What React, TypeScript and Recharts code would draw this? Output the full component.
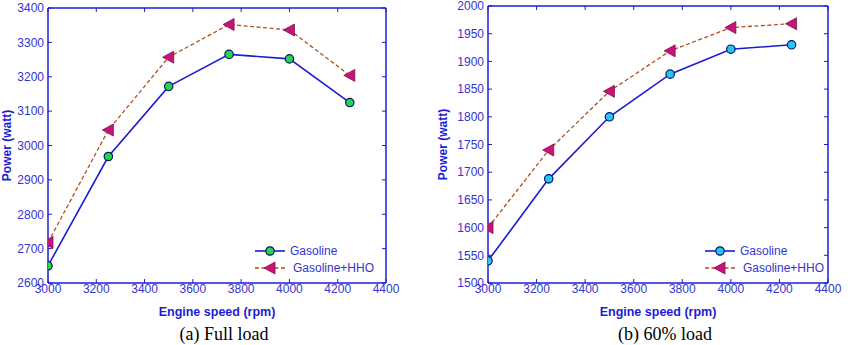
import React from "react";
import { LineChart, Line, XAxis, YAxis } from "recharts";

// Engine speed (rpm) at each test point
const rpm = [3000, 3250, 3500, 3750, 4000, 4250];

// Power output (watt) at full load
const fullGasoline = [2650, 2968, 3172, 3265, 3252, 3125];
const fullHHO = [2718, 3045, 3257, 3352, 3336, 3204];

// Power output (watt) at 60% load
const partGasoline = [1540, 1688, 1800, 1877, 1922, 1930];
const partHHO = [1600, 1740, 1846, 1919, 1961, 1968];

const xTicks = [3000, 3200, 3400, 3600, 3800, 4000, 4200, 4400];
const fullTicks = [2600, 2700, 2800, 2900, 3000, 3100, 3200, 3300, 3400];
const partTicks = [1500, 1550, 1600, 1650, 1700, 1750, 1800, 1850, 1900, 1950, 2000];

const AXIS = "#1c1cd6";
const LABEL = "#3434d0";
const FONT = "'Liberation Sans', Arial, sans-serif";

const buildRows = (a: number[], b: number[]) =>
  rpm.map((r, i) => ({ rpm: r, gasoline: a[i], hho: b[i] }));

// left-pointing triangle marker
const TriangleDot = (props: any) => {
  const { cx, cy } = props;
  if (cx == null || cy == null) return null;
  return (
    <path
      d={`M${cx - 6},${cy} L${cx + 5},${cy - 6} L${cx + 5},${cy + 6} Z`}
      fill="#c8147a"
      stroke="#7a1048"
      strokeWidth={0.8}
    />
  );
};

const CircleDot = (fill: string) => (props: any) => {
  const { cx, cy } = props;
  if (cx == null || cy == null) return null;
  return <circle cx={cx} cy={cy} r={4.2} fill={fill} stroke="#10106a" strokeWidth={1.2} />;
};

interface PanelProps {
  left: number;
  width: number;
  top: number;
  yAxisWidth: number;
  rightMargin: number;
  domain: [number, number];
  yTicks: number[];
  gasoline: number[];
  hho: number[];
  dotFill: string;
  caption: string;
  legendX: number;
  titleX: number;
}

const tickStyle = { fill: LABEL, fontSize: 12, fontFamily: FONT };

const Panel: React.FC<PanelProps> = ({
  left, width, top, yAxisWidth, rightMargin, domain, yTicks, gasoline, hho, dotFill, caption, legendX, titleX,
}) => {
  const rows = buildRows(gasoline, hho);
  const plotLeft = yAxisWidth;
  const plotRight = width - rightMargin;
  const plotMid = (plotLeft + plotRight) / 2;
  const plotTop = top;
  const plotBottom = 283;
  return (
    <div style={{ position: "absolute", left, top: 0, width, height: 345 }}>
      <LineChart
        width={width}
        height={345}
        data={rows}
        margin={{ top: top - 1, right: rightMargin - 1, bottom: 42, left: 0 }}
      >
        <XAxis
          xAxisId="bottom"
          dataKey="rpm"
          type="number"
          domain={[3000, 4400]}
          ticks={xTicks}
          interval={0}
          height={20}
          axisLine={{ stroke: AXIS, strokeWidth: 1.5 }}
          tickLine={{ stroke: AXIS }}
          tickSize={-4}
          tickMargin={5}
          tick={tickStyle}
          allowDataOverflow
        />
        <XAxis
          xAxisId="top"
          orientation="top"
          dataKey="rpm"
          type="number"
          domain={[3000, 4400]}
          ticks={xTicks}
          interval={0}
          height={1}
          axisLine={{ stroke: AXIS, strokeWidth: 1.5 }}
          tickLine={{ stroke: AXIS }}
          tickSize={-4}
          tickFormatter={() => ""}
          allowDataOverflow
        />
        <YAxis
          yAxisId="left"
          domain={domain}
          ticks={yTicks}
          interval={0}
          width={yAxisWidth}
          axisLine={{ stroke: AXIS, strokeWidth: 1.5 }}
          tickLine={{ stroke: AXIS }}
          tickSize={-4}
          tickMargin={8}
          tick={tickStyle}
          allowDataOverflow
        />
        <YAxis
          yAxisId="right"
          orientation="right"
          domain={domain}
          ticks={yTicks}
          interval={0}
          width={1}
          axisLine={{ stroke: AXIS, strokeWidth: 1.5 }}
          tickLine={{ stroke: AXIS }}
          tickSize={-4}
          tickFormatter={() => ""}
          allowDataOverflow
        />
        <Line
          xAxisId="bottom"
          yAxisId="left"
          dataKey="gasoline"
          stroke={AXIS}
          strokeWidth={1.6}
          dot={CircleDot(dotFill)}
          isAnimationActive={false}
        />
        <Line
          xAxisId="bottom"
          yAxisId="left"
          dataKey="hho"
          stroke="#b0501e"
          strokeWidth={1.3}
          strokeDasharray="4 2.5"
          dot={TriangleDot}
          isAnimationActive={false}
        />
        {/* legend */}
        <g fontFamily={FONT} fontSize={12} fill={LABEL}>
          <line x1={legendX} x2={legendX + 30} y1={251} y2={251} stroke={AXIS} strokeWidth={1.6} />
          <circle cx={legendX + 15} cy={251} r={4.2} fill={dotFill} stroke="#10106a" strokeWidth={1.2} />
          <text x={legendX + 35} y={255}>Gasoline</text>
          <line x1={legendX} x2={legendX + 30} y1={268} y2={268} stroke="#b0501e" strokeWidth={1.3} strokeDasharray="4 2.5" />
          <path
            d={`M${legendX + 9},268 L${legendX + 20},262 L${legendX + 20},274 Z`}
            fill="#c8147a"
            stroke="#7a1048"
            strokeWidth={0.8}
          />
          <text x={legendX + 38} y={272}>Gasoline+HHO</text>
        </g>
        <text
          x={plotMid}
          y={316}
          textAnchor="middle"
          fontFamily={FONT}
          fontSize={12.5}
          fontWeight="bold"
          fill={AXIS}
        >
          Engine speed (rpm)
        </text>
        <text
          transform={`translate(${titleX}, ${(plotTop + plotBottom) / 2}) rotate(-90)`}
          textAnchor="middle"
          fontFamily={FONT}
          fontSize={12}
          fontWeight="bold"
          fill={AXIS}
        >
          Power (watt)
        </text>
        <text
          x={plotMid + 7}
          y={340}
          textAnchor="middle"
          fontFamily="'Liberation Serif', 'Times New Roman', serif"
          fontSize={18}
          fill="#000"
        >
          {caption}
        </text>
      </LineChart>
    </div>
  );
};

export default function App() {
  return (
    <div style={{ position: "absolute", left: 0, top: 0, width: 851, height: 345, background: "#fff" }}>
      <Panel
        left={0}
        width={400}
        top={8}
        yAxisWidth={48}
        rightMargin={14}
        domain={[2600, 3400]}
        yTicks={fullTicks}
        gasoline={fullGasoline}
        hho={fullHHO}
        dotFill="#22d84a"
        caption="(a) Full load"
        legendX={255}
        titleX={11}
      />
      <Panel
        left={430}
        width={421}
        top={6}
        yAxisWidth={58}
        rightMargin={23}
        domain={[1500, 2000]}
        yTicks={partTicks}
        gasoline={partGasoline}
        hho={partHHO}
        dotFill="#22c8f4"
        caption="(b) 60% load"
        legendX={275}
        titleX={17}
      />
    </div>
  );
}
